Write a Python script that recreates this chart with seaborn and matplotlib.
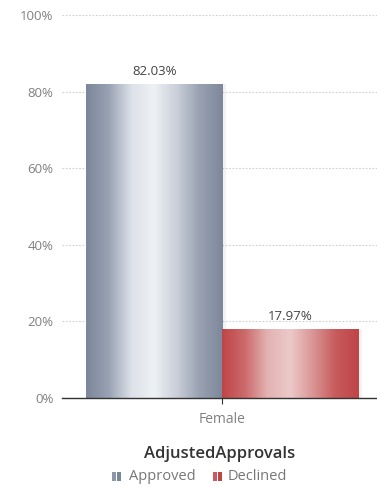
import numpy as np
import pandas as pd
import matplotlib
matplotlib.use("Agg")
import matplotlib.pyplot as plt
from matplotlib.colors import LinearSegmentedColormap
from matplotlib.patches import Rectangle
import seaborn as sns

categories = ["Female"]
statuses = ["Approved", "Declined"]
values = [82.03, 17.97]
title = "AdjustedApprovals"
yticks = [0, 20, 40, 60, 80, 100]

df = pd.DataFrame({"Gender": categories * len(statuses),
                   "Status": statuses,
                   "Pct": values})

sns.set_theme(style="white")
plt.rcParams["font.family"] = ["Open Sans", "DejaVu Sans"]

fig = plt.figure(figsize=(3.77, 4.87), dpi=100)
ax = fig.add_axes([62 / 377, 1 - 398 / 487, 1 - 62 / 377, (398 - 15) / 487])

base_colors = {"Approved": "#8a94a6", "Declined": "#c24c4f"}
sns.barplot(data=df, x="Gender", y="Pct", hue="Status", hue_order=statuses,
            palette=base_colors, width=0.8, dodge=True, ax=ax, legend=False,
            saturation=1)

# metallic gradients laid over each bar
grad_stops = {
    "Approved": ["#7c869a", "#9aa3b4", "#dde2e9", "#eef1f4", "#c9ced8",
                 "#98a1b1", "#7e889b"],
    "Declined": ["#bf4547", "#cc6a6c", "#e3b3b3", "#ecc9c9", "#d99494",
                 "#c75a5c", "#bf4547"],
}
grad = np.linspace(0, 1, 256).reshape(1, -1)
for patch, status in zip(ax.patches, statuses):
    x0, y0 = patch.get_x(), patch.get_y()
    w, h = patch.get_width(), patch.get_height()
    cmap = LinearSegmentedColormap.from_list(status, grad_stops[status])
    # faint shadow on the right side
    ax.add_patch(Rectangle((x0 + w, y0), 0.01, h, color="#000000",
                           alpha=0.05, lw=0, zorder=1))
    im = ax.imshow(grad, cmap=cmap, aspect="auto",
                   extent=[x0, x0 + w, y0, y0 + h], zorder=2)
    im.set_clip_path(patch)
    patch.set_edgecolor("none")
    ax.text(x0 + w / 2, y0 + h + 1.6, f"{h:.2f}%", ha="center", va="bottom",
            fontsize=9.5, color="#444444", zorder=4)

ax.set_xlim(-0.47, 0.453)
ax.set_ylim(0, 100)
ax.set_yticks(yticks)
ax.set_yticklabels([f"{t}%" for t in yticks])
ax.yaxis.grid(True, linestyle=(0, (1.5, 1.5)), color="#cfcfcf", lw=0.8)
ax.set_axisbelow(True)
for s in ["top", "right", "left"]:
    ax.spines[s].set_visible(False)
ax.spines["bottom"].set_color("#333333")
ax.spines["bottom"].set_linewidth(1.0)
ax.tick_params(axis="y", length=0, pad=6, labelsize=9.5, labelcolor="#808080")
ax.tick_params(axis="x", bottom=True, length=4, width=0.8, color="#333333",
               pad=6, labelsize=10, labelcolor="#808080")
ax.set_xlabel("")
ax.set_ylabel("")

# legend title and swatches
fig.text(220 / 377, 1 - 454 / 487, title, ha="center", va="center",
         fontsize=12, fontweight="semibold", color="#333333")
legend_items = [("Approved", 112, 129), ("Declined", 213, 228)]
for status, icon_x, text_x in legend_items:
    cmap = LinearSegmentedColormap.from_list(status, grad_stops[status])
    for k, off in enumerate([0, 5]):
        fig.patches.append(Rectangle(((icon_x + off) / 377, 1 - 481 / 487),
                                     3.5 / 377, 9 / 487,
                                     transform=fig.transFigure,
                                     color=cmap(0.1 if k == 0 else 0.0),
                                     lw=0))
    fig.text(text_x / 377, 1 - 476 / 487, status, ha="left", va="center",
             fontsize=10.5, color="#777777")

fig.savefig("out.png", dpi=100)
